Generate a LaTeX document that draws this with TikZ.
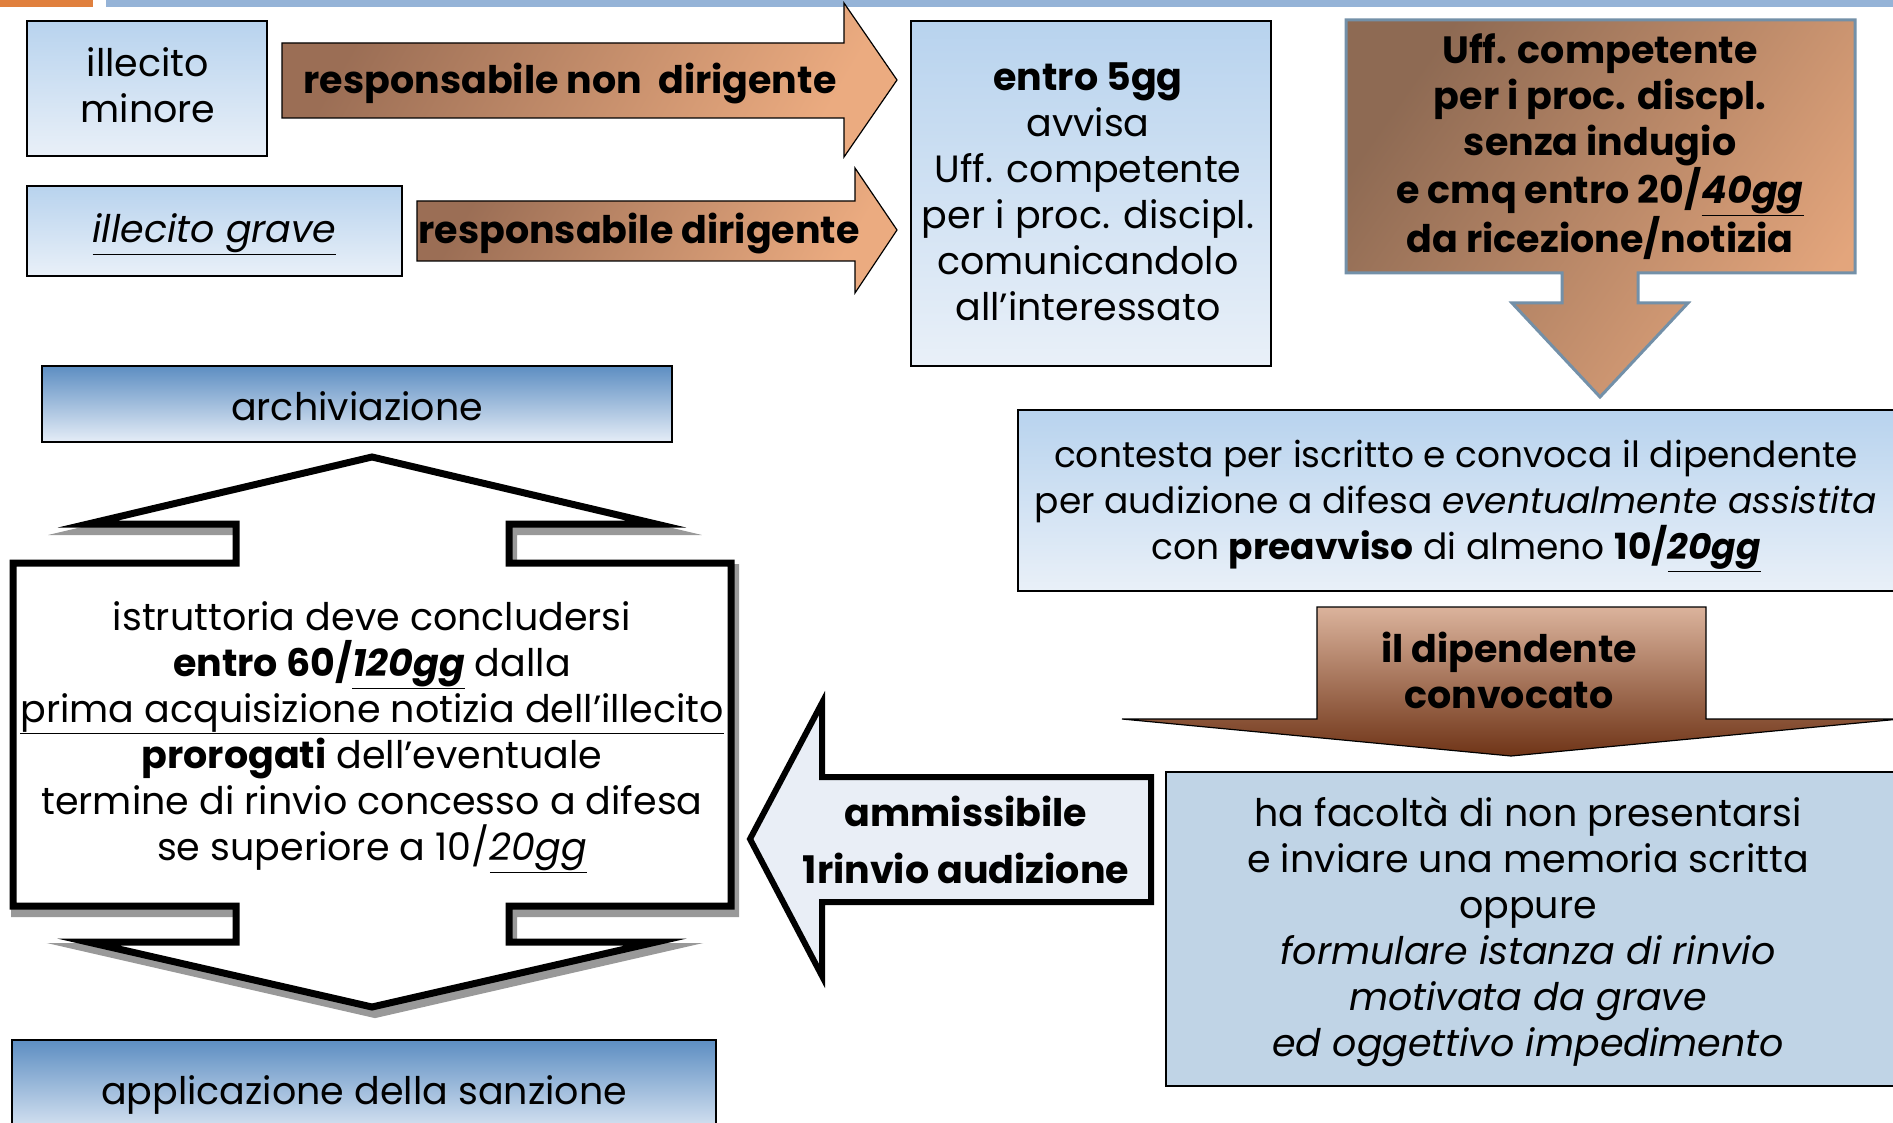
\documentclass[tikz,border=0pt]{standalone}
\usepackage{fontspec}
\setmainfont{Poppins}
\definecolor{orbar}{HTML}{E0803E}
\definecolor{blbar}{HTML}{95B3D7}
\definecolor{bxtop}{HTML}{B8D3EE}
\definecolor{bxbot}{HTML}{E9F0F8}
\definecolor{artop}{HTML}{5D8EC2}
\definecolor{armid}{HTML}{BBD1E9}
\definecolor{arbot}{HTML}{E5EDF7}
\definecolor{brA}{HTML}{9B6E55}
\definecolor{brB}{HTML}{EBAB80}
\definecolor{ufA}{HTML}{8E6A53}
\definecolor{ufB}{HTML}{E3A57C}
\definecolor{ufline}{HTML}{7390A8}
\definecolor{dpA}{HTML}{DBB39C}
\definecolor{dpB}{HTML}{B46E3E}
\definecolor{dpC}{HTML}{6F3417}
\definecolor{hfill}{HTML}{C0D4E6}
\definecolor{lafill}{HTML}{E9EEF6}
\begin{document}
\begin{tikzpicture}[x=1pt,y=-1pt,
  txt/.style={font=\fontsize{38}{46}\selectfont, align=center, inner sep=0pt, text=black},
  btxt/.style={txt, font=\fontsize{38}{46}\selectfont\bfseries},
  bluebox/.style={draw=black, line width=1.6pt, top color=bxtop, bottom color=bxbot, inner sep=0pt},
  archbox/.style={draw=black, line width=1.6pt, top color=artop, middle color=armid, bottom color=arbot, inner sep=0pt},
  brownarrow/.style={draw=black, line width=1.2pt, left color=brA, right color=brB, shading angle=60},
  bigshape/.style={line join=miter, miter limit=20},
]
\useasboundingbox (0,0) rectangle (1893,1123);
\clip (0,0) rectangle (1893,1123);
\fill[white] (0,0) rectangle (1893,1123);
% top bars
\fill[orbar] (0,0) rectangle (93,7);
\fill[blbar] (106,0) rectangle (1893,7);

% left boxes
\node[bluebox, minimum width=240pt, minimum height=135pt] (minore) at (147,88.5) {};
\node[txt] (minoret) at (148,85.5) {illecito\\minore};
\node[bluebox, minimum width=375pt, minimum height=90pt] (grave) at (214.5,231) {};
\node[txt] (gravet) at (214.5,234) {\underline{\textit{illecito grave}}};

% brown arrows
\draw[brownarrow] (282,43) -- (844,43) -- (844,3) -- (897,80) -- (844,157) -- (844,118) -- (282,118) -- cycle;
\node[btxt] (rnd) at (570,84) {responsabile non~ dirigente};
\draw[brownarrow] (417,201) -- (855,201) -- (855,168) -- (897,230) -- (855,293) -- (855,261) -- (417,261) -- cycle;
\node[btxt] (rd) at (639,234) {responsabile dirigente};

% entro 5gg box
\node[bluebox, minimum width=360pt, minimum height=345pt] (entro) at (1091,193.5) {};
\node[txt] (entrot) at (1088,192)
  {\textbf{entro 5gg}\\avvisa\\Uff. competente\\per i proc. discipl.\\comunicandolo\\all’interessato};

% Uff competente callout
\draw[line width=3pt, draw=ufline, left color=ufA, right color=ufB, shading angle=55]
  (1346,20) -- (1855,20) -- (1855,273) -- (1638,273) -- (1638,303) -- (1688,303) -- (1600,397)
  -- (1512,303) -- (1562,303) -- (1562,273) -- (1346,273) -- cycle;
\node[btxt] (uff) at (1600,147) {Uff. competente\\per i proc. discpl.\\senza indugio\\e cmq entro 20/\underline{\textit{40gg}}\\da ricezione/notizia};

% contesta box
\draw[line width=1.6pt, top color=bxtop, bottom color=bxbot] (1018,410) rectangle (1910,591);
\node[txt, font=\fontsize{36}{46}\selectfont] (contesta) at (1456,506) {contesta per iscritto e convoca il dipendente\\per audizione a difesa \textit{eventualmente assistita}\\con \textbf{preavviso} di almeno \textbf{10/\underline{\textit{20gg}}}};

% il dipendente convocato
\draw[line width=1.2pt, top color=dpA, middle color=dpB, bottom color=dpC]
  (1317,607) -- (1706,607) -- (1706,719) -- (1900,719) -- (1511,756) -- (1122,719) -- (1317,719) -- cycle;
\node[btxt] (dip) at (1509,670) {il dipendente\\convocato};

% ha facolta box
\draw[line width=1.6pt, fill=hfill] (1166,772) rectangle (1910,1086);
\node[txt] (facolta) at (1528,932) {ha facoltà di non presentarsi\\e inviare una memoria scritta\\oppure\\\textit{formulare istanza di rinvio}\\\textit{motivata da grave}\\\textit{ed oggettivo impedimento}};

% left arrow
\draw[line width=6pt, fill=lafill, line join=miter, miter limit=20]
  (750,839) -- (822,703) -- (822,777) -- (1151,777) -- (1151,902) -- (822,902) -- (822,976) -- cycle;
\node[txt, font=\fontsize{38}{57}\selectfont\bfseries] (amm) at (966,840) {ammissibile\\1rinvio audizione};

% archiviazione
\node[archbox, minimum width=630pt, minimum height=76pt] (arch) at (357,404) {};
\node[txt] (archt) at (357,406) {archiviazione};

% big up-down callout with shadow
\draw[bigshape, line width=10pt, black, opacity=0.4, shift={(3,6)}]
  (372,457) -- (656,524) -- (509,524) -- (509,563) -- (731,563) -- (731,906) -- (509,906) -- (509,942)
  -- (656,942) -- (372,1007) -- (88,942) -- (236,942) -- (236,906) -- (13,906) -- (13,563) -- (236,563)
  -- (236,524) -- (88,524) -- cycle;
\draw[bigshape, line width=7pt, fill=white]
  (372,457) -- (656,524) -- (509,524) -- (509,563) -- (731,563) -- (731,906) -- (509,906) -- (509,942)
  -- (656,942) -- (372,1007) -- (88,942) -- (236,942) -- (236,906) -- (13,906) -- (13,563) -- (236,563)
  -- (236,524) -- (88,524) -- cycle;
\node[txt] (istr) at (372,737) {istruttoria deve concludersi\\\textbf{entro 60/\underline{\textit{120gg}}} dalla\\\underline{prima acquisizione notizia dell’illecito}\\\textbf{prorogati} dell’eventuale\\termine di rinvio concesso a difesa\\se superiore a 10/\underline{\textit{20gg}}};

% applicazione
\node[archbox, minimum width=704pt, minimum height=100pt] (appl) at (364,1090) {};
\node[txt] (applt) at (364,1095) {applicazione della sanzione};
\end{tikzpicture}
\end{document}
